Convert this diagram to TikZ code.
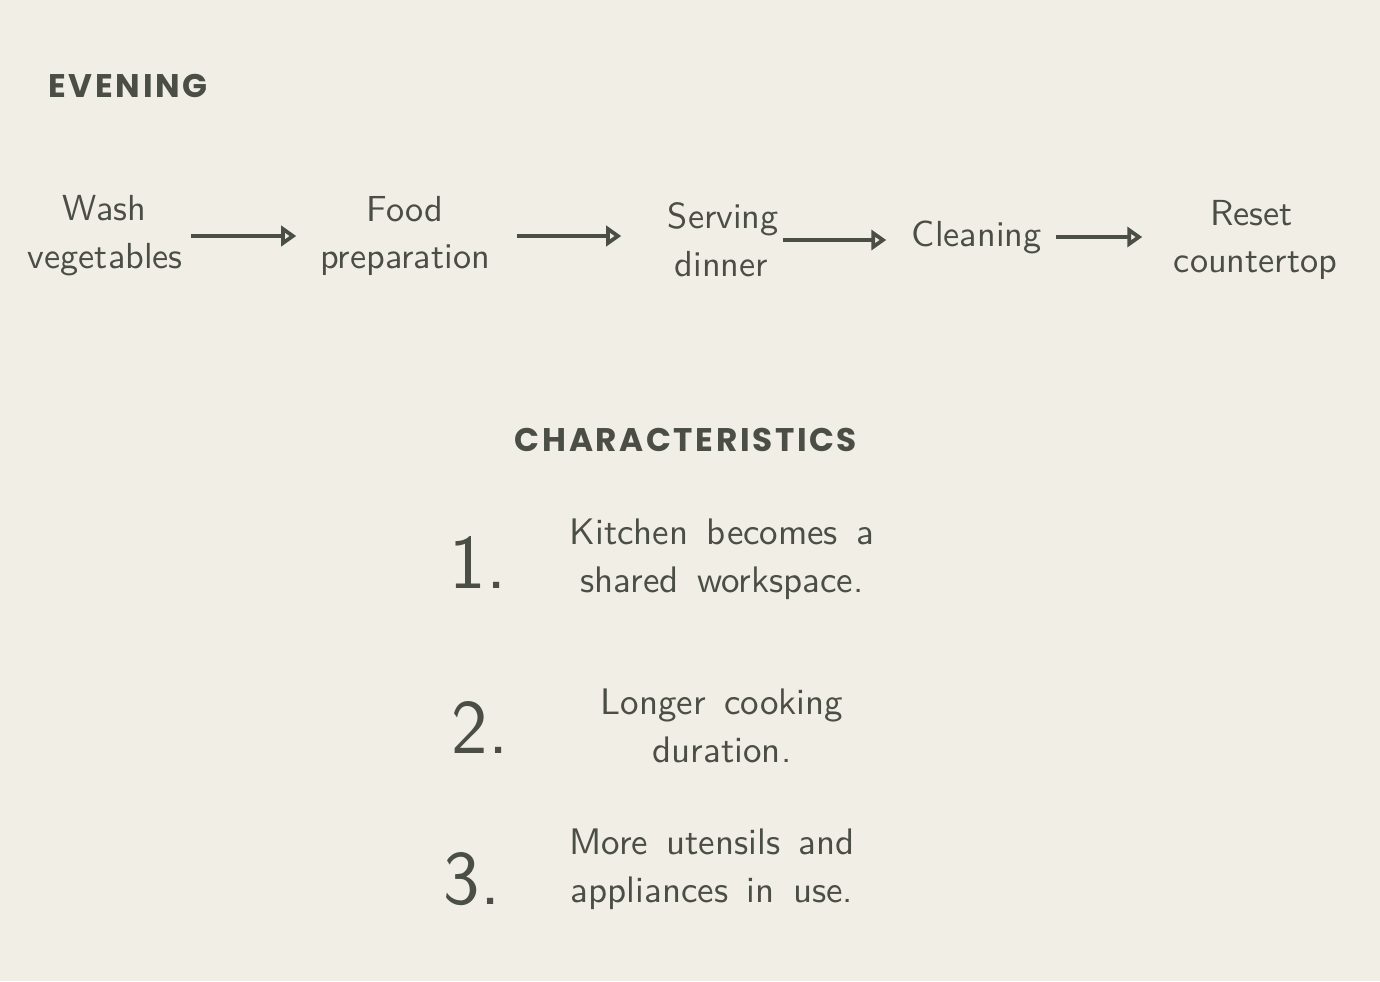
\documentclass[tikz,border=0pt]{standalone}
\usepackage{fontspec}
\usepackage{tikz}
\usetikzlibrary{arrows.meta}
\newfontfamily\headfont{Poppins}[LetterSpace=8]
\newcommand\widewords{\spaceskip=0.5em\relax}
\definecolor{paper}{HTML}{F1EEE5}
\definecolor{ink}{HTML}{4A4E44}

\begin{document}
\begin{tikzpicture}[x=0.01cm, y=-0.01cm,
        heading/.style={text=ink, inner sep=0pt, font=\headfont\bfseries\fontsize{9.3}{12}\selectfont},
        stepnode/.style={text=ink, inner sep=0pt, align=center, font=\sffamily\fontsize{10.3}{13.6}\selectfont},
        numnode/.style={text=ink, inner sep=0pt, font=\sffamily\fontsize{22}{26}\selectfont},
        itemnode/.style={text=ink, inner sep=0pt, align=center, font=\sffamily\fontsize{10.5}{13.6}\selectfont\widewords},
        flow/.style={draw=ink, line width=1.1pt, -{Triangle[open, length=1.5mm, width=2mm]}}]
        \fill[paper](0,0) rectangle (1380,981);
        \useasboundingbox (0,0) rectangle (1380,981);
        % headings
        \node[heading, anchor=base west] (evening) at (48,97){EVENING};
        \node[heading, anchor=base] (charac) at (686,451){CHARACTERISTICS};
        % evening steps
        \node[stepnode, text width=1.53cm] (wash) at (104.5,236){Wash\\vegetables};
        \node[stepnode, text width=1.78cm] (food) at (405,236){Food\\preparation};
        \node[stepnode, text width=1.07cm] (serving) at (721.5,240){Serving\\dinner};
        \node[stepnode, text width=1.28cm] (cleaning) at (976,237){Cleaning};
        \node[stepnode, text width=1.55cm] (reset) at (1251.5,240){Reset\\countertop};
        \draw[flow, shorten <=0.09cm, shorten >=0.19cm](wash.east) -- (wash.east -| food.west);
        \draw[flow, shorten <=0.22cm, shorten >=0.46cm](food.east) -- (food.east -| serving.west);
        \draw[flow, shorten <=0.07cm, shorten >=0.25cm](serving.east) -- (serving.east -| cleaning.west);
        \draw[flow, shorten <=0.15cm, shorten >=0.31cm](cleaning.east) -- (cleaning.east -| reset.west);
        % characteristics
        \node[numnode] (num1) at (478,562){1.};
        \node[numnode] (num2) at (480,727){2.};
        \node[numnode] (num3) at (472,879){3.};
        \node[itemnode] (item1) at (722,559){Kitchen becomes a\\shared workspace.};
        \node[itemnode] (item2) at (722,726){Longer cooking\\duration.};
        \node[itemnode] (item3) at (712,869){More utensils and\\appliances in use.};
\end{tikzpicture}
\end{document}
